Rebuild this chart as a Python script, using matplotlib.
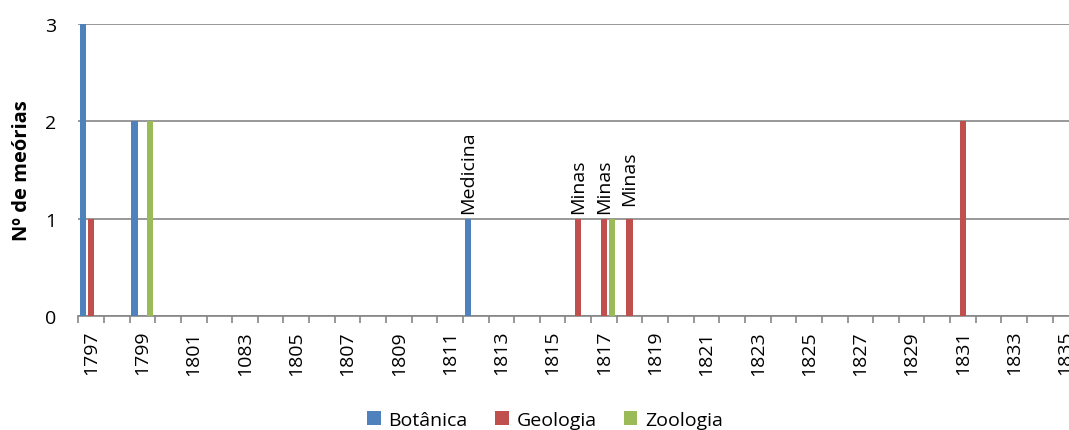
import numpy as np
import matplotlib.pyplot as plt

plt.rcParams['font.family'] = ['Open Sans', 'DejaVu Sans']

# categories (the original chart has the "1083" typo for 1803)
years = [str(y) for y in range(1797, 1836)]
years[6] = "1083"

botanica = np.zeros(len(years))
geologia = np.zeros(len(years))
zoologia = np.zeros(len(years))
botanica[[0, 2, 15]] = [3, 2, 1]
geologia[[0, 19, 20, 21, 34]] = [1, 1, 1, 1, 2]
zoologia[[2, 20]] = [2, 1]

series_names = ["Botânica", "Geologia", "Zoologia"]
series_colors = ["#4F81BD", "#C0504D", "#9BBB59"]

# data labels: (category index, series index, text)
point_labels = [(15, 0, "Medicina"), (19, 1, "Minas"), (20, 1, "Minas"), (21, 1, "Minas")]
label_nudge = {21: 6}

fig = plt.figure(figsize=(10.69, 4.31), dpi=100)
ax = fig.add_axes([78.3 / 1069, 114 / 431, 1000 / 1069, 292 / 431])

x = np.arange(len(years))
offsets = [-0.305, 0.0, 0.305]
all_vals = [botanica, geologia, zoologia]
for vals, name, col, off in zip(all_vals, series_names, series_colors, offsets):
    ax.bar(x + off, vals, width=0.245, color=col, label=name, zorder=3)

for idx, s, txt in point_labels:
    ax.annotate(txt, (x[idx] + offsets[s], all_vals[s][idx]),
                xytext=(0, 4 + label_nudge.get(idx, 0)), textcoords='offset points',
                rotation=90, ha='center', va='bottom', fontsize=14)

ax.set_xlim(-0.5, len(years) - 0.5)
ax.set_ylim(0, 3)
ax.set_yticks([0, 1, 2, 3])
ax.yaxis.grid(True, color='#868686', linewidth=1.2, zorder=0)
ax.tick_params(axis='y', length=0, pad=16, labelsize=14)

ax.set_xticks(x[::2])
ax.set_xticklabels(years[::2], rotation=90)
ax.set_xticks(np.arange(-0.5, len(years)), minor=True)
ax.tick_params(axis='x', which='major', length=0, pad=10, labelsize=14)
ax.tick_params(axis='x', which='minor', length=5, width=1.2, color='#868686')

for side in ['left', 'right', 'top']:
    ax.spines[side].set_visible(False)
ax.spines['bottom'].set_color('#868686')
ax.spines['bottom'].set_linewidth(1.2)

ax.set_ylabel("Nº de meórias", fontsize=14.5, fontweight='bold', labelpad=9)

fig.legend(loc='center', bbox_to_anchor=(545 / 1069, 1 - 421 / 431), ncol=3,
           frameon=False, fontsize=14, handlelength=0.7, handleheight=0.7,
           handletextpad=0.4, columnspacing=1.4)

fig.savefig("out.png", dpi=100)
